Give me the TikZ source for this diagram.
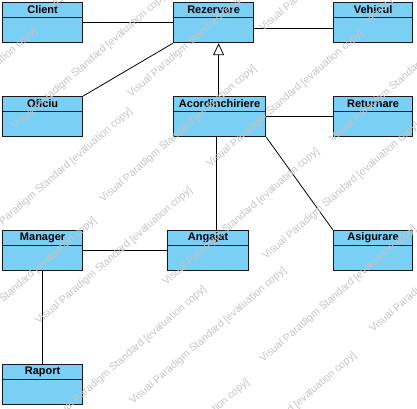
\documentclass[tikz,border=0pt]{standalone}
\usepackage{fontspec}
\setmainfont{Liberation Sans}
\usetikzlibrary{
    positioning,
    calc,
    arrows.meta
}
\definecolor{ClassFill}{HTML}{7ACFF5}
\definecolor{ClassBorder}{HTML}{151A22}
\definecolor{MarcaGray}{HTML}{C4C4C4}

\tikzset{
    classbox/.style={
        draw=ClassBorder,
        fill=ClassFill,
        line width=1.2pt,
        minimum height=40pt,
        inner sep=0pt,
        anchor=north west
    },
    classtitle/.style={
        font=\fontsize{11}{13}\selectfont\bfseries,
        minimum height=15pt,
        inner sep=0pt,
        anchor=north
    },
    assoc/.style={
        draw=black,
        line width=0.8pt
    },
    watermark/.style={
        font=\fontsize{10.5}{12}\selectfont,
        text=MarcaGray,
        rotate=41,
        anchor=base west,
        inner sep=0pt
    }
}

\newcommand{\umlclass}[5]{%
    \node[classbox, minimum width=#4] (#1) at (#2,#3) {};
    \draw[draw=ClassBorder, line width=1pt]
        ([yshift=-15pt]#1.north west) -- ([yshift=-15pt]#1.north east);
    \node[classtitle] (#1-title) at (#1.north) {#5};
}

\begin{document}
\begin{tikzpicture}[x=1pt, y=-1pt]

    \useasboundingbox (0,0) rectangle (417,408);

    \umlclass{client}{2}{2}{80pt}{Client}
    \umlclass{rezervare}{173}{2}{80pt}{Rezervare}
    \umlclass{vehicul}{333}{2}{79pt}{Vehicul}

    \umlclass{oficiu}{2}{96}{80pt}{Oficiu}
    \umlclass{acordinchiriere}{173}{96}{92pt}{Acordinchiriere}
    \umlclass{returnare}{333}{96}{79pt}{Returnare}

    \umlclass{manager}{2}{230}{80pt}{Manager}
    \umlclass{angajat}{167}{230}{81pt}{Angajat}
    \umlclass{asigurare}{333}{230}{79pt}{Asigurare}

    \umlclass{raport}{2}{364}{80pt}{Raport}

    \draw[assoc] (client.east) -- (rezervare.west);
    \draw[assoc] ([yshift=-6pt]rezervare.east) -- ([yshift=-6pt]vehicul.west);
    \draw[assoc] (oficiu.north east) -- (rezervare.south west);
    \draw[assoc, -{Triangle[open, length=12pt, width=11pt]}]
        ([xshift=-1pt]acordinchiriere.north)
        -- ([xshift=-1pt]acordinchiriere.north |- rezervare.south);
    \draw[assoc] (acordinchiriere.east) -- (returnare.west);
    \draw[assoc] ([xshift=-3pt]acordinchiriere.south)
        -- ([xshift=-3pt]acordinchiriere.south |- angajat.north);
    \draw[assoc] (acordinchiriere.south east) -- (asigurare.north west);
    \draw[assoc] (manager.east) -- (angajat.west);
    \draw[assoc] (manager.south) -- (raport.north);

    \begin{scope}
        \clip (0,0) rectangle (417,408);
        \foreach \wx/\wy in {103/203, 39/325, 263/363, 373/333, 203/490,
                             96/517, 133/405, 15/130, -21/246, 210/168,
                             166/286, 53/424, -57/355, 333/143, 266/260,
                             131/98, 263/32, -116/166, 368/25, 53/10}
            \node[watermark] at (\wx,\wy) {Visual Paradigm Standard [evaluation copy]};
    \end{scope}

\end{tikzpicture}
\end{document}
